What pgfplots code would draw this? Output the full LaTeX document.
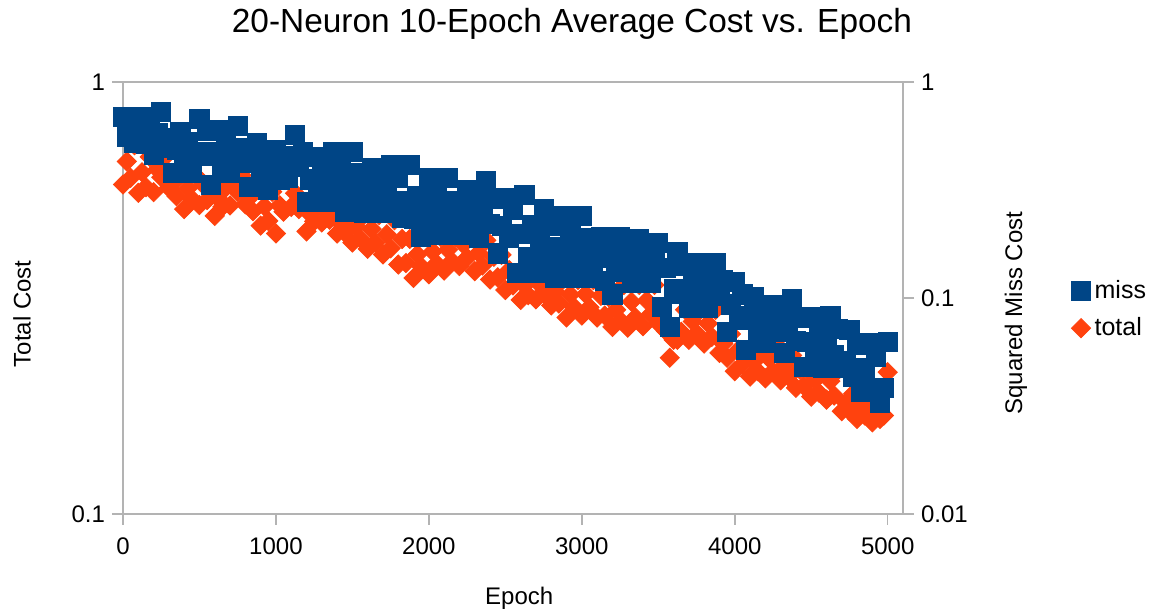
\documentclass[border=0pt]{standalone}
\usepackage{fontspec}
\setmainfont{Liberation Sans}
\usepackage{pgfplots}
\usepackage{pgfplotstable}
\pgfplotsset{compat=1.18}

\definecolor{missblue}{HTML}{004586}
\definecolor{totalorange}{HTML}{FF420E}
\definecolor{framegray}{HTML}{B3B3B3}

% 10-epoch averages: squared miss cost and total cost
\pgfplotstableread{
epoch miss total
0 0.689 0.579
25 0.560 0.655
50 0.643 0.600
75 0.523 0.714
100 0.563 0.554
125 0.689 0.618
150 0.517 0.571
175 0.647 0.671
200 0.460 0.556
225 0.578 0.628
250 0.726 0.602
275 0.495 0.671
300 0.548 0.569
325 0.380 0.583
350 0.484 0.544
375 0.587 0.608
400 0.424 0.508
425 0.528 0.568
450 0.380 0.536
475 0.472 0.608
500 0.674 0.519
525 0.456 0.578
550 0.593 0.533
575 0.334 0.571
600 0.474 0.490
625 0.599 0.536
650 0.392 0.514
675 0.535 0.571
700 0.380 0.518
725 0.487 0.576
750 0.626 0.557
775 0.421 0.608
800 0.495 0.521
825 0.327 0.539
850 0.432 0.502
875 0.523 0.565
900 0.368 0.465
925 0.461 0.515
950 0.316 0.477
975 0.407 0.557
1000 0.484 0.446
1025 0.352 0.518
1050 0.436 0.501
1075 0.360 0.593
1100 0.453 0.514
1125 0.569 0.553
1150 0.405 0.508
1175 0.476 0.522
1200 0.278 0.451
1225 0.354 0.494
1250 0.450 0.476
1275 0.314 0.522
1300 0.400 0.473
1325 0.278 0.503
1350 0.354 0.480
1375 0.474 0.495
1400 0.294 0.446
1425 0.405 0.470
1450 0.250 0.448
1475 0.345 0.495
1500 0.474 0.425
1525 0.285 0.463
1550 0.379 0.435
1575 0.247 0.492
1600 0.314 0.411
1625 0.401 0.457
1650 0.279 0.425
1675 0.355 0.492
1700 0.247 0.399
1725 0.306 0.444
1750 0.414 0.412
1775 0.270 0.479
1800 0.359 0.378
1825 0.234 0.433
1850 0.281 0.381
1875 0.414 0.433
1900 0.232 0.352
1925 0.298 0.399
1950 0.192 0.374
1975 0.265 0.438
2000 0.360 0.359
2025 0.227 0.405
2050 0.309 0.380
2075 0.196 0.438
2100 0.265 0.366
2125 0.360 0.409
2150 0.220 0.385
2175 0.280 0.438
2200 0.196 0.375
2225 0.258 0.421
2250 0.316 0.392
2275 0.233 0.455
2300 0.286 0.365
2325 0.190 0.402
2350 0.256 0.376
2375 0.348 0.430
2400 0.220 0.349
2425 0.287 0.394
2450 0.161 0.353
2475 0.216 0.398
2500 0.290 0.330
2525 0.189 0.367
2550 0.256 0.338
2575 0.131 0.357
2600 0.198 0.313
2625 0.300 0.338
2650 0.155 0.321
2675 0.218 0.357
2700 0.131 0.314
2725 0.184 0.340
2750 0.258 0.324
2775 0.149 0.348
2800 0.215 0.304
2825 0.124 0.327
2850 0.172 0.307
2875 0.239 0.348
2900 0.146 0.285
2925 0.203 0.322
2950 0.124 0.301
2975 0.172 0.348
3000 0.239 0.288
3025 0.143 0.323
3050 0.190 0.301
3075 0.124 0.348
3100 0.154 0.285
3125 0.192 0.320
3150 0.120 0.288
3175 0.164 0.318
3200 0.104 0.271
3225 0.141 0.297
3250 0.192 0.281
3275 0.132 0.339
3300 0.166 0.270
3325 0.117 0.310
3350 0.149 0.285
3375 0.188 0.339
3400 0.131 0.272
3425 0.161 0.312
3450 0.117 0.290
3475 0.146 0.339
3500 0.180 0.277
3525 0.091 0.271
3550 0.138 0.265
3575 0.0736 0.230
3600 0.110 0.253
3625 0.163 0.253
3650 0.105 0.264
3675 0.141 0.297
3700 0.090 0.253
3725 0.114 0.279
3750 0.146 0.262
3775 0.102 0.297
3800 0.129 0.248
3825 0.090 0.276
3850 0.114 0.257
3875 0.146 0.297
3900 0.102 0.236
3925 0.121 0.248
3950 0.0698 0.230
3975 0.0935 0.261
4000 0.119 0.214
4025 0.0795 0.240
4050 0.104 0.222
4075 0.0576 0.236
4100 0.0826 0.208
4125 0.101 0.225
4150 0.0664 0.214
4175 0.0878 0.236
4200 0.0621 0.206
4225 0.0759 0.229
4250 0.093 0.214
4275 0.0698 0.246
4300 0.088 0.204
4325 0.0558 0.221
4350 0.0744 0.208
4375 0.099 0.233
4400 0.0632 0.196
4425 0.081 0.216
4450 0.0478 0.198
4475 0.0627 0.216
4500 0.0817 0.187
4525 0.0549 0.204
4550 0.0717 0.191
4575 0.0473 0.215
4600 0.0627 0.184
4625 0.0826 0.203
4650 0.0546 0.188
4675 0.0721 0.215
4700 0.0473 0.173
4725 0.0510 0.181
4750 0.0713 0.173
4775 0.0432 0.190
4800 0.0605 0.166
4825 0.0369 0.179
4850 0.0475 0.169
4875 0.0621 0.179
4900 0.0384 0.163
4925 0.0532 0.172
4950 0.0328 0.166
4975 0.0384 0.169
5000 0.0627 0.213
}\costdata

\begin{document}
\begin{tikzpicture}[x=1pt,y=1pt]
\useasboundingbox (0,0) rectangle (580,307.5);

% left axis: total cost
\begin{axis}[
  at={(61.5pt,50.5pt)}, anchor=south west,
  scale only axis, width=390pt, height=216pt,
  xmin=0, xmax=5100,
  ymode=log, yminorticks=false,
  clip=false,
  axis line style={framegray, line width=0.75pt},
  tick style={framegray, line width=0.75pt},
  major tick length=5.5pt,
  tick align=outside,
  ticklabel style={font=\fontsize{12}{14}\selectfont, text=black},
  /pgf/number format/assume math mode=true,
  /pgf/number format/1000 sep={},
  label style={font=\fontsize{12}{14}\selectfont},
  tick pos=left,
  ymin=0.1, ymax=1,
  ytick={0.1,1}, yticklabels={0.1,1},
  xtick={0,1000,2000,3000,4000,5000},
  xticklabel style={yshift=-3pt},
  every axis title shift=0pt,
  title={20-Neuron 10-Epoch Average Cost vs. Epoch},
  title style={font=\fontsize{16.7}{20}\selectfont, at={(axis description cs:0.5756,1.135)}, anchor=center},
  xlabel={Epoch},
  xlabel style={at={(axis description cs:0.508,-0.194)}, anchor=center},
  ylabel={Total Cost},
  ylabel style={at={(axis description cs:-0.1295,0.463)}, anchor=center},
]
\addplot[only marks, mark=square*, mark size=3.4pt,
  mark options={rotate=45, draw=totalorange, fill=totalorange, line width=0.4pt}]
  table[x=epoch, y=total] {\costdata};
\end{axis}

% right axis: squared miss cost
\begin{axis}[
  at={(61.5pt,50.5pt)}, anchor=south west,
  scale only axis, width=390pt, height=216pt,
  xmin=0, xmax=5100,
  ymode=log, yminorticks=false,
  clip=false,
  axis line style={framegray, line width=0.75pt},
  tick style={framegray, line width=0.75pt},
  major tick length=5.5pt,
  tick align=outside,
  ticklabel style={font=\fontsize{12}{14}\selectfont, text=black},
  /pgf/number format/assume math mode=true,
  label style={font=\fontsize{12}{14}\selectfont},
  axis x line=none,
  axis y line*=right,
  ymin=0.01, ymax=1,
  ytick={0.01,0.1,1}, yticklabels={0.01,0.1,1},
  ylabel={Squared Miss Cost},
  ylabel style={at={(axis description cs:1.1449,0.465)}, anchor=center},
  legend style={at={(axis description cs:1.2077,0.56)}, anchor=north west,
    draw=none, fill=none, font=\fontsize{12.5}{15}\selectfont, row sep=4pt},
  legend cell align=left,
]
\addplot[only marks, mark=square*, mark size=4.8pt,
  mark options={draw=missblue, fill=missblue, line width=0.4pt}]
  table[x=epoch, y=miss] {\costdata};
\addlegendentry{miss}
\addlegendimage{only marks, mark=square*, mark size=3.4pt,
  mark options={rotate=45, draw=totalorange, fill=totalorange, line width=0.4pt}}
\addlegendentry{total}
\end{axis}
\end{tikzpicture}
\end{document}
